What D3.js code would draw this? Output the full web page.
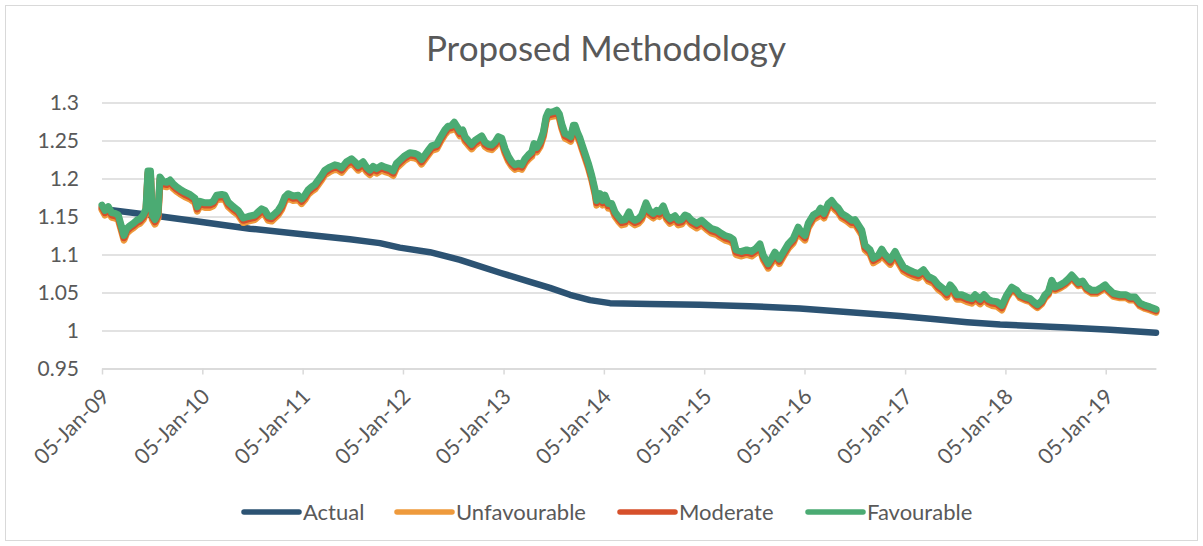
<!DOCTYPE html>
<html>
<head>
<meta charset="utf-8">
<script src="https://cdn.jsdelivr.net/npm/d3@7"></script>
<style>
  body { margin: 0; background: #fff; }
  svg text { font-family: Lato, "Open Sans", sans-serif; fill: #595959; }
</style>
</head>
<body>
<svg id="chart" width="1203" height="546"></svg>
<script>
// forecast dates as decimal years
const years = [
  2009.011, 2009.041, 2009.074, 2009.108, 2009.141, 2009.173, 2009.207, 2009.230, 2009.257, 2009.290,
  2009.323, 2009.357, 2009.390, 2009.422, 2009.449, 2009.469, 2009.494, 2009.512, 2009.539, 2009.569,
  2009.589, 2009.622, 2009.656, 2009.689, 2009.721, 2009.755, 2009.788, 2009.838, 2009.888, 2009.938,
  2009.960, 2009.987, 2010.037, 2010.087, 2010.120, 2010.154, 2010.204, 2010.236, 2010.269, 2010.319,
  2010.369, 2010.419, 2010.469,
  2010.535, 2010.568, 2010.602, 2010.635, 2010.668, 2010.702, 2010.735, 2010.767, 2010.801, 2010.834,
  2010.867, 2010.917, 2010.967, 2011.001, 2011.033, 2011.066, 2011.100, 2011.133, 2011.166, 2011.200,
  2011.233, 2011.283, 2011.332, 2011.365, 2011.399, 2011.449, 2011.499, 2011.532, 2011.565, 2011.614,
  2011.648, 2011.681, 2011.714, 2011.748, 2011.798, 2011.831, 2011.880, 2011.913, 2011.947, 2011.980,
  2012.030, 2012.079, 2012.129, 2012.162, 2012.196, 2012.229, 2012.262, 2012.296, 2012.346, 2012.378,
  2012.428, 2012.461, 2012.495, 2012.521, 2012.551, 2012.578, 2012.605, 2012.628, 2012.660, 2012.694,
  2012.727, 2012.760, 2012.794, 2012.827, 2012.860, 2012.894, 2012.926, 2012.959, 2012.993, 2013.026,
  2013.059, 2013.093, 2013.126, 2013.159, 2013.192, 2013.225, 2013.258, 2013.292, 2013.315, 2013.342,
  2013.375, 2013.408, 2013.435, 2013.458,
  2013.474, 2013.507, 2013.541, 2013.567, 2013.591, 2013.624, 2013.657, 2013.680, 2013.707, 2013.724,
  2013.747, 2013.773, 2013.790, 2013.823, 2013.856, 2013.890, 2013.923, 2013.940, 2013.973, 2013.999,
  2014.022, 2014.055, 2014.089, 2014.122, 2014.155, 2014.189, 2014.222, 2014.262, 2014.288, 2014.321,
  2014.354, 2014.388, 2014.431, 2014.464, 2014.504, 2014.537, 2014.565, 2014.603, 2014.637, 2014.670,
  2014.720, 2014.753, 2014.786, 2014.819, 2014.852, 2014.886, 2014.936, 2014.986,
  2015.036, 2015.085, 2015.135, 2015.168, 2015.218, 2015.268, 2015.301, 2015.328, 2015.384, 2015.434,
  2015.484, 2015.527, 2015.567, 2015.600, 2015.649, 2015.683, 2015.716, 2015.759, 2015.799, 2015.849,
  2015.898, 2015.948, 2015.982, 2016.015, 2016.048, 2016.098, 2016.148, 2016.171, 2016.204, 2016.247,
  2016.281, 2016.314, 2016.347, 2016.381, 2016.431, 2016.480,
  2016.513, 2016.546, 2016.580, 2016.613, 2016.663, 2016.696, 2016.745, 2016.779, 2016.812, 2016.862,
  2016.912, 2016.945, 2016.994, 2017.044, 2017.094, 2017.144, 2017.194, 2017.243, 2017.293, 2017.343,
  2017.393, 2017.427, 2017.460, 2017.493, 2017.527, 2017.576, 2017.626, 2017.676, 2017.709, 2017.759,
  2017.798, 2017.841, 2017.875, 2017.925, 2017.975,
  2018.025, 2018.074, 2018.124, 2018.157, 2018.207, 2018.257, 2018.290, 2018.330, 2018.373, 2018.406,
  2018.439, 2018.473, 2018.506, 2018.556, 2018.605, 2018.638, 2018.672, 2018.705, 2018.738, 2018.782,
  2018.822, 2018.871, 2018.921, 2018.971, 2019.004, 2019.037, 2019.087, 2019.153, 2019.213, 2019.253,
  2019.303, 2019.353, 2019.403, 2019.452, 2019.512
];

const favourable = [
  1.165, 1.158, 1.163, 1.155, 1.154, 1.152, 1.136, 1.125, 1.134, 1.138,
  1.141, 1.145, 1.147, 1.152, 1.160, 1.210, 1.210, 1.152, 1.146, 1.154,
  1.202, 1.196, 1.195, 1.198, 1.193, 1.189, 1.186, 1.182, 1.179, 1.174,
  1.163, 1.170, 1.168, 1.168, 1.170, 1.178, 1.179, 1.178, 1.169, 1.163,
  1.158, 1.148, 1.150,
  1.152, 1.156, 1.160, 1.158, 1.151, 1.150, 1.154, 1.158, 1.165, 1.176,
  1.180, 1.177, 1.178, 1.173, 1.178, 1.185, 1.189, 1.192, 1.198, 1.204,
  1.211, 1.215, 1.218, 1.217, 1.214, 1.222, 1.226, 1.222, 1.217, 1.222,
  1.215, 1.211, 1.216, 1.213, 1.217, 1.215, 1.213, 1.210, 1.220, 1.224,
  1.230, 1.234, 1.233, 1.231, 1.225, 1.231, 1.237, 1.243, 1.245, 1.253,
  1.264, 1.269, 1.270, 1.274, 1.268, 1.262, 1.264, 1.255, 1.250, 1.245,
  1.250, 1.253, 1.256, 1.248, 1.245, 1.244, 1.248, 1.255, 1.253, 1.239,
  1.229, 1.222, 1.218, 1.220, 1.218, 1.226, 1.231, 1.235, 1.246, 1.241,
  1.248, 1.261, 1.281, 1.288,
  1.287, 1.288, 1.290, 1.285, 1.272, 1.259, 1.257, 1.255, 1.270, 1.270,
  1.261, 1.253, 1.246, 1.233, 1.220, 1.204, 1.185, 1.171, 1.180, 1.171,
  1.178, 1.167, 1.167, 1.156, 1.150, 1.145, 1.146, 1.156, 1.148, 1.145,
  1.147, 1.152, 1.168, 1.158, 1.154, 1.158, 1.156, 1.164, 1.152, 1.147,
  1.151, 1.145, 1.146, 1.152, 1.150, 1.145, 1.141, 1.145,
  1.139, 1.134, 1.132, 1.129, 1.125, 1.123, 1.120, 1.106, 1.104, 1.106,
  1.104, 1.108, 1.114, 1.099, 1.088, 1.095, 1.103, 1.094, 1.103, 1.114,
  1.121, 1.136, 1.129, 1.125, 1.141, 1.152, 1.156, 1.161, 1.154, 1.167,
  1.171, 1.165, 1.161, 1.154, 1.150, 1.145,
  1.146, 1.139, 1.132, 1.112, 1.106, 1.095, 1.099, 1.107, 1.100, 1.093,
  1.104, 1.095, 1.084, 1.080, 1.077, 1.075, 1.080, 1.071, 1.068, 1.060,
  1.055, 1.050, 1.060, 1.055, 1.047, 1.047, 1.044, 1.042, 1.047, 1.041,
  1.047, 1.041, 1.039, 1.038, 1.033,
  1.047, 1.057, 1.053, 1.047, 1.044, 1.042, 1.038, 1.034, 1.039, 1.047,
  1.051, 1.066, 1.057, 1.060, 1.064, 1.068, 1.073, 1.068, 1.063, 1.065,
  1.057, 1.053, 1.053, 1.057, 1.060, 1.055, 1.049, 1.047, 1.047, 1.044,
  1.044, 1.036, 1.033, 1.031, 1.028
];

const moderate = [
  1.162, 1.155, 1.160, 1.152, 1.151, 1.149, 1.133, 1.122, 1.131, 1.135,
  1.138, 1.142, 1.144, 1.149, 1.157, 1.207, 1.207, 1.149, 1.143, 1.151,
  1.199, 1.193, 1.192, 1.195, 1.190, 1.186, 1.183, 1.179, 1.176, 1.171,
  1.160, 1.167, 1.165, 1.165, 1.167, 1.175, 1.176, 1.175, 1.166, 1.160,
  1.155, 1.145, 1.147,
  1.149, 1.153, 1.157, 1.155, 1.148, 1.147, 1.151, 1.155, 1.162, 1.173,
  1.177, 1.174, 1.175, 1.170, 1.175, 1.182, 1.186, 1.189, 1.195, 1.201,
  1.208, 1.212, 1.215, 1.214, 1.211, 1.219, 1.223, 1.219, 1.214, 1.219,
  1.212, 1.208, 1.213, 1.210, 1.214, 1.212, 1.210, 1.207, 1.217, 1.221,
  1.227, 1.231, 1.230, 1.228, 1.222, 1.228, 1.234, 1.240, 1.242, 1.250,
  1.261, 1.266, 1.267, 1.271, 1.265, 1.259, 1.261, 1.252, 1.247, 1.242,
  1.247, 1.250, 1.253, 1.245, 1.242, 1.241, 1.245, 1.252, 1.250, 1.236,
  1.226, 1.219, 1.215, 1.217, 1.215, 1.223, 1.228, 1.232, 1.243, 1.238,
  1.245, 1.258, 1.278, 1.285,
  1.284, 1.285, 1.287, 1.282, 1.269, 1.256, 1.254, 1.252, 1.267, 1.267,
  1.258, 1.250, 1.243, 1.230, 1.217, 1.201, 1.182, 1.168, 1.177, 1.168,
  1.175, 1.164, 1.164, 1.153, 1.147, 1.142, 1.143, 1.153, 1.145, 1.142,
  1.144, 1.149, 1.165, 1.155, 1.151, 1.155, 1.153, 1.161, 1.149, 1.144,
  1.148, 1.142, 1.143, 1.149, 1.147, 1.142, 1.138, 1.142,
  1.136, 1.131, 1.129, 1.126, 1.122, 1.120, 1.117, 1.103, 1.101, 1.103,
  1.101, 1.105, 1.111, 1.096, 1.085, 1.092, 1.100, 1.091, 1.100, 1.111,
  1.118, 1.133, 1.126, 1.122, 1.138, 1.149, 1.153, 1.158, 1.151, 1.164,
  1.168, 1.162, 1.158, 1.151, 1.147, 1.142,
  1.143, 1.136, 1.129, 1.109, 1.103, 1.092, 1.096, 1.104, 1.097, 1.090,
  1.101, 1.092, 1.081, 1.077, 1.074, 1.072, 1.077, 1.068, 1.065, 1.057,
  1.052, 1.047, 1.057, 1.052, 1.044, 1.044, 1.041, 1.039, 1.044, 1.038,
  1.044, 1.038, 1.036, 1.035, 1.030,
  1.045, 1.055, 1.051, 1.045, 1.042, 1.040, 1.036, 1.032, 1.037, 1.045,
  1.049, 1.064, 1.055, 1.058, 1.062, 1.066, 1.071, 1.066, 1.061, 1.063,
  1.055, 1.051, 1.051, 1.055, 1.058, 1.053, 1.047, 1.045, 1.045, 1.042,
  1.042, 1.034, 1.031, 1.029, 1.026
];

const unfavourable = [
  1.159, 1.152, 1.157, 1.149, 1.148, 1.146, 1.130, 1.119, 1.128, 1.132,
  1.135, 1.139, 1.141, 1.146, 1.154, 1.204, 1.204, 1.146, 1.140, 1.148,
  1.196, 1.190, 1.189, 1.192, 1.187, 1.183, 1.180, 1.176, 1.173, 1.168,
  1.157, 1.164, 1.162, 1.162, 1.164, 1.172, 1.173, 1.172, 1.163, 1.157,
  1.152, 1.142, 1.144,
  1.146, 1.150, 1.154, 1.152, 1.145, 1.144, 1.148, 1.152, 1.159, 1.170,
  1.174, 1.171, 1.172, 1.167, 1.172, 1.179, 1.183, 1.186, 1.192, 1.198,
  1.205, 1.209, 1.212, 1.211, 1.208, 1.216, 1.220, 1.216, 1.211, 1.216,
  1.209, 1.205, 1.210, 1.207, 1.211, 1.209, 1.207, 1.204, 1.214, 1.218,
  1.224, 1.228, 1.227, 1.225, 1.219, 1.225, 1.231, 1.237, 1.239, 1.247,
  1.258, 1.263, 1.264, 1.268, 1.262, 1.256, 1.258, 1.249, 1.244, 1.239,
  1.244, 1.247, 1.250, 1.242, 1.239, 1.238, 1.242, 1.249, 1.247, 1.233,
  1.223, 1.216, 1.212, 1.214, 1.212, 1.220, 1.225, 1.229, 1.240, 1.235,
  1.242, 1.255, 1.275, 1.282,
  1.281, 1.282, 1.284, 1.279, 1.266, 1.253, 1.251, 1.249, 1.264, 1.264,
  1.255, 1.247, 1.240, 1.227, 1.214, 1.198, 1.179, 1.165, 1.174, 1.165,
  1.172, 1.161, 1.161, 1.150, 1.144, 1.139, 1.140, 1.150, 1.142, 1.139,
  1.141, 1.146, 1.162, 1.152, 1.148, 1.152, 1.150, 1.158, 1.146, 1.141,
  1.145, 1.139, 1.140, 1.146, 1.144, 1.139, 1.135, 1.139,
  1.133, 1.128, 1.126, 1.123, 1.119, 1.117, 1.114, 1.100, 1.098, 1.100,
  1.098, 1.102, 1.108, 1.093, 1.082, 1.089, 1.097, 1.088, 1.097, 1.108,
  1.115, 1.130, 1.123, 1.119, 1.135, 1.146, 1.150, 1.155, 1.148, 1.161,
  1.165, 1.159, 1.155, 1.148, 1.144, 1.139,
  1.140, 1.133, 1.126, 1.106, 1.100, 1.089, 1.093, 1.101, 1.094, 1.087,
  1.098, 1.089, 1.078, 1.074, 1.071, 1.069, 1.074, 1.065, 1.062, 1.054,
  1.049, 1.044, 1.054, 1.049, 1.041, 1.041, 1.038, 1.036, 1.041, 1.035,
  1.041, 1.035, 1.033, 1.032, 1.027,
  1.043, 1.053, 1.049, 1.043, 1.040, 1.038, 1.034, 1.030, 1.035, 1.043,
  1.047, 1.062, 1.053, 1.056, 1.060, 1.064, 1.069, 1.064, 1.059, 1.061,
  1.053, 1.049, 1.049, 1.053, 1.056, 1.051, 1.045, 1.043, 1.043, 1.040,
  1.040, 1.032, 1.029, 1.027, 1.024
];

const actualYears = [
  2009.011, 2009.489, 2009.987, 2010.486, 2010.984, 2011.482, 2011.781, 2011.980, 2012.279, 2012.578,
  2012.976, 2013.275, 2013.474, 2013.673, 2013.873, 2014.072, 2014.470, 2014.969, 2015.467, 2015.965,
  2016.463, 2016.961, 2017.290, 2017.629, 2017.958, 2018.626, 2019.055, 2019.512
];
const actual = [
  1.160, 1.152, 1.143, 1.134, 1.127, 1.120, 1.115, 1.109, 1.103, 1.093,
  1.076, 1.064, 1.056, 1.047, 1.040, 1.036, 1.035, 1.034, 1.032, 1.029,
  1.024, 1.019, 1.015, 1.011, 1.008, 1.004, 1.001, 0.997
];

const tickYears = [2009, 2010, 2011, 2012, 2013, 2014, 2015, 2016, 2017, 2018, 2019];
const yTicks = [0.95, 1, 1.05, 1.1, 1.15, 1.2, 1.25, 1.3];

const seriesNames = ["Actual", "Unfavourable", "Moderate", "Favourable"];
const seriesColors = ["#2C5373", "#EE9A3C", "#D6502B", "#4BAB73"];

// decimal year -> Date
function toDate(t) {
  const yr = Math.floor(t);
  const s = new Date(yr, 0, 1), e = new Date(yr + 1, 0, 1);
  return new Date(+s + (t - yr) * (e - s));
}

const svg = d3.select("#chart");
const plotLeft = 102, plotRight = 1156, plotTop = 102.5, plotBottom = 368.5;

svg.append("rect")
  .attr("x", 5.5).attr("y", 5.5).attr("width", 1192).attr("height", 535)
  .attr("fill", "#fff").attr("stroke", "#D9D9D9").attr("stroke-width", 1);

const x = d3.scaleTime()
  .domain([new Date(2009, 0, 5), toDate(2019.512)])
  .range([plotLeft, plotRight]);
const y = d3.scaleLinear().domain([0.95, 1.3]).range([plotBottom, plotTop]);

// gridlines + y labels
const yAxis = svg.append("g")
  .attr("transform", `translate(${plotLeft},0)`)
  .call(d3.axisLeft(y).tickValues(yTicks).tickSize(-(plotRight - plotLeft)).tickPadding(23)
    .tickFormat(d => String(+d.toFixed(2))));
yAxis.select(".domain").remove();
yAxis.selectAll("line").attr("stroke", "#D9D9D9").attr("stroke-width", 1.5);
yAxis.selectAll("text").attr("font-size", 21).attr("fill", "#595959");

// x axis
const xAxis = svg.append("g")
  .attr("transform", `translate(0,${plotBottom})`)
  .call(d3.axisBottom(x).tickValues(tickYears.map(yr => new Date(yr, 0, 5)))
    .tickSize(6).tickSizeOuter(0).tickFormat(d3.timeFormat("%d-%b-%y")));
xAxis.select(".domain").attr("stroke", "#D9D9D9").attr("stroke-width", 1.5);
xAxis.selectAll("line").attr("stroke", "#D9D9D9").attr("stroke-width", 1.5);
xAxis.selectAll("text")
  .attr("font-size", 21.5).attr("fill", "#595959")
  .attr("text-anchor", "end")
  .attr("transform", "translate(3,24) rotate(-45)")
  .attr("x", 0).attr("y", 0).attr("dy", "0.35em");

const line = d3.line()
  .x(d => x(toDate(d[0])))
  .y(d => y(d[1]));

const seriesData = [
  d3.zip(actualYears, actual),
  d3.zip(years, unfavourable),
  d3.zip(years, moderate),
  d3.zip(years, favourable)
];

svg.append("g").selectAll("path")
  .data(seriesData)
  .join("path")
  .attr("d", line)
  .attr("fill", "none")
  .attr("stroke", (d, i) => seriesColors[i])
  .attr("stroke-width", (d, i) => i === 0 ? 6.5 : 7)
  .attr("stroke-linejoin", "round")
  .attr("stroke-linecap", "round");

// title
svg.append("text")
  .attr("x", 606).attr("y", 61)
  .attr("text-anchor", "middle")
  .attr("font-size", 35)
  .text("Proposed Methodology");

// legend
const legendX = [244, 397, 620, 808];
const legend = svg.append("g").selectAll("g")
  .data(seriesNames)
  .join("g")
  .attr("transform", (d, i) => `translate(${legendX[i]},512)`);
legend.append("line")
  .attr("x1", 0).attr("x2", 55).attr("y1", 0).attr("y2", 0)
  .attr("stroke", (d, i) => seriesColors[i])
  .attr("stroke-width", 5.5).attr("stroke-linecap", "round");
legend.append("text")
  .attr("x", 59).attr("y", 0).attr("dy", "0.35em")
  .attr("font-size", 22)
  .text(d => d);
</script>
</body>
</html>
